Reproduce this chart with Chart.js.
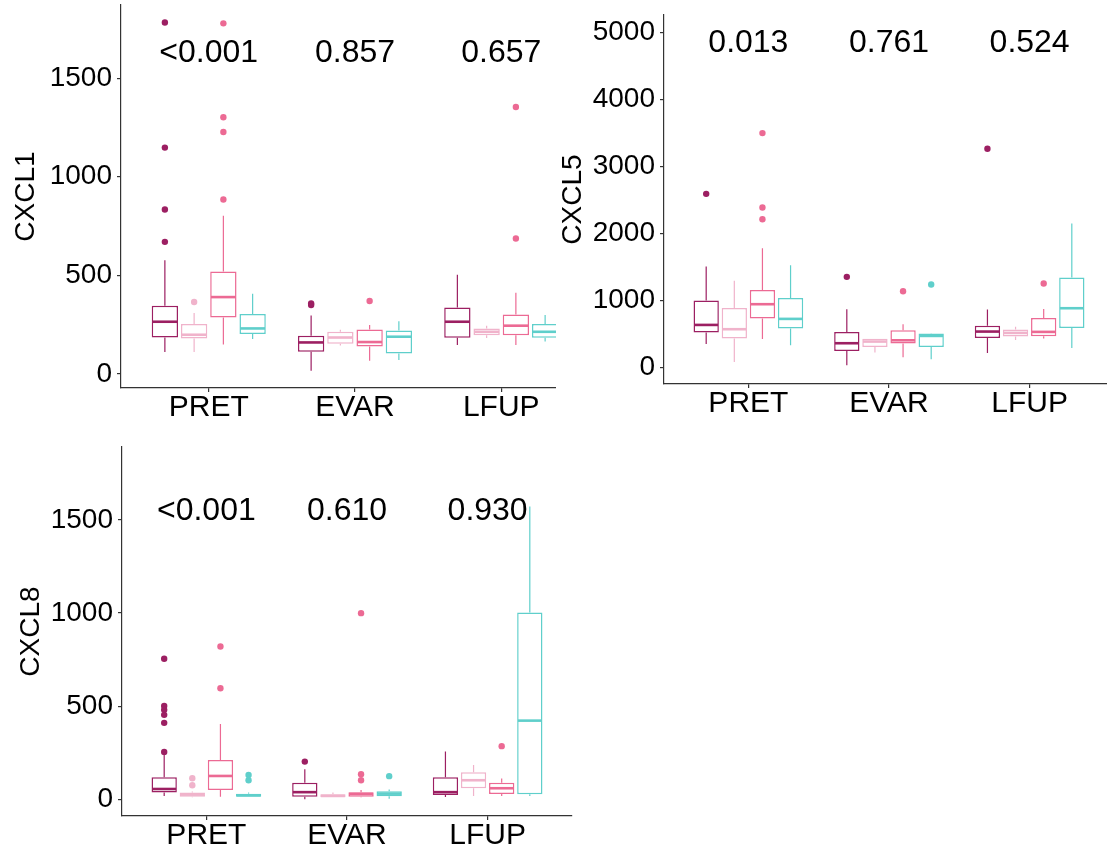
<!DOCTYPE html>
<html>
<head>
<meta charset="utf-8">
<script src="https://cdn.jsdelivr.net/npm/chart.js@4"></script>
<style>
  html, body { margin: 0; padding: 0; background: #fff; width: 1107px; height: 849px; overflow: hidden; }
  .panel { position: absolute; overflow: hidden; }
  canvas { position: absolute; left: 0; top: 0; }
</style>
</head>
<body>
<div class="panel" style="left:0;top:0;width:556px;height:440px"><canvas id="c1" width="620" height="440"></canvas></div>
<div class="panel" style="left:556px;top:0;width:551px;height:440px"><canvas id="c2" width="578" height="440"></canvas></div>
<div class="panel" style="left:0;top:440px;width:600px;height:409px"><canvas id="c3" width="600" height="409"></canvas></div>
<script>
const categories = ["PRET", "EVAR", "LFUP"];
const groupColors = ["#9c1f62", "#f0b3cb", "#ec6a94", "#5fcfcb"];

// each box: [lower whisker, q1, median, q3, upper whisker], one per category
const cxcl1G1 = [[111, 185, 265, 346, 577], [17, 113, 160, 194, 297], [147, 184, 265, 337, 503]];
const cxcl1G2 = [[111, 180, 199, 253, 309], [145, 153, 185, 214, 224], [182, 196, 214, 231, 245]];
const cxcl1G3 = [[150, 287, 390, 520, 802], [67, 140, 162, 226, 248], [147, 196, 245, 302, 412]];
const cxcl1G4 = [[177, 203, 231, 304, 407], [71, 104, 189, 221, 267], [165, 184, 214, 253, 299]];
const cxcl1Out = [
  [[670, 834, 1148, 1782], [350, 358], []],
  [[365], [], []],
  [[885, 1227, 1302, 1778], [370], [687, 1354]],
  [[], [], []]
];
const cxcl1P = ["<0.001", "0.857", "0.657"];
const cxcl1Ticks = [0, 500, 1000, 1500];

const cxcl5G1 = [[353, 522, 636, 1000, 1507], [34, 249, 363, 532, 870], [218, 442, 537, 622, 866]];
const cxcl5G2 = [[84, 433, 572, 890, 1293], [224, 308, 388, 428, 430], [413, 463, 517, 567, 607]];
const cxcl5G3 = [[427, 731, 945, 1158, 1780], [154, 358, 407, 557, 646], [433, 467, 532, 741, 875]];
const cxcl5G4 = [[333, 582, 726, 1039, 1527], [124, 308, 472, 507, 510], [293, 592, 885, 1343, 2149]];
const cxcl5Out = [
  [[2591], [1353], [3263]],
  [[], [], []],
  [[2213, 2388, 3497], [1139], [1254]],
  [[], [1239], []]
];
const cxcl5P = ["0.013", "0.761", "0.524"];
const cxcl5Ticks = [0, 1000, 2000, 3000, 4000, 5000];

const cxcl8G1 = [[18, 36, 55, 118, 237], [0, 14, 38, 88, 161], [12, 23, 38, 118, 256]];
const cxcl8G2 = [[11, 14, 25, 36, 41], [11, 11, 18, 27, 36], [18, 59, 102, 145, 184]];
const cxcl8G3 = [[14, 50, 125, 211, 404], [11, 14, 28, 38, 50], [18, 28, 59, 89, 111]];
const cxcl8G4 = [[14, 14, 21, 30, 36], [3, 16, 30, 43, 52], [18, 27, 422, 1002, 1572]];
const cxcl8Out = [
  [[254, 410, 453, 480, 501, 754], [202], []],
  [[75, 113], [], []],
  [[596, 820], [102, 134, 999], [285]],
  [[102, 130], [124], []]
];
const cxcl8P = ["<0.001", "0.610", "0.930"];
const cxcl8Ticks = [0, 500, 1000, 1500];

Chart.defaults.font.family = '"Liberation Sans", Arial, sans-serif';
Chart.defaults.color = "#000";

// whiskers, medians, outliers and p-values on top of the floating bars
function boxExtras(p) {
  return {
    id: "boxExtras",
    afterDatasetsDraw(chart) {
      const ctx = chart.ctx;
      const y = chart.scales.y;
      ctx.save();
      p.boxes.forEach((box, g) => {
        const meta = chart.getDatasetMeta(g);
        ctx.strokeStyle = groupColors[g];
        ctx.fillStyle = groupColors[g];
        box.forEach((b, i) => {
          const el = meta.data[i];
          const x = el.x, w = el.width;
          ctx.lineWidth = 1.2;
          ctx.beginPath();
          ctx.moveTo(x, y.getPixelForValue(b[3]));
          ctx.lineTo(x, y.getPixelForValue(b[4]));
          ctx.moveTo(x, y.getPixelForValue(b[1]));
          ctx.lineTo(x, y.getPixelForValue(b[0]));
          ctx.stroke();
          const ym = y.getPixelForValue(b[2]);
          ctx.lineWidth = 2.6;
          ctx.beginPath();
          ctx.moveTo(x - w / 2 + 0.75, ym);
          ctx.lineTo(x + w / 2 - 0.75, ym);
          ctx.stroke();
          p.outliers[g][i].forEach(v => {
            ctx.beginPath();
            ctx.arc(x, y.getPixelForValue(v), 3.2, 0, Math.PI * 2);
            ctx.fill();
          });
        });
      });
      ctx.fillStyle = "#000";
      ctx.font = '32px "Liberation Sans", Arial, sans-serif';
      ctx.textAlign = "center";
      ctx.textBaseline = "alphabetic";
      p.pvalues.forEach((t, i) => {
        ctx.fillText(t, chart.scales.x.getPixelForValue(i + 1), y.getPixelForValue(p.pY));
      });
      ctx.restore();
    }
  };
}

function boxChart(id, p) {
  const datasets = p.boxes.map((box, g) => ({
    data: box.map((b, i) => ({ x: i + 1, y: [b[1], b[3]] })),
    backgroundColor: "#fff",
    borderColor: groupColors[g],
    borderWidth: 1.5,
    borderSkipped: false,
    categoryPercentage: 0.8,
    barPercentage: 0.9
  }));

  new Chart(id, {
    type: "bar",
    data: { datasets },
    options: {
      responsive: false,
      animation: false,
      layout: { padding: p.pad },
      plugins: { legend: { display: false }, tooltip: { enabled: false } },
      scales: {
        x: {
          type: "linear",
          min: 0.4,
          max: 3.6,
          offset: false,
          bounds: "data",
          grid: { drawOnChartArea: false, offset: false, tickLength: 4, color: "#333", lineWidth: 1.2 },
          border: { color: "#333", width: 1.2 },
          afterBuildTicks: s => { s.ticks = categories.map((c, i) => ({ value: i + 1 })); },
          ticks: {
            callback: v => categories[v - 1],
            font: { size: 30, lineHeight: 1 },
            color: "#000",
            padding: 1,
            maxRotation: 0,
            autoSkip: false
          },
          afterFit: s => { s.height = p.xH; s.paddingLeft = 0; s.paddingRight = 0; }
        },
        y: {
          min: p.yMin,
          max: p.yMax,
          bounds: "data",
          grid: { drawOnChartArea: false, tickLength: 4, color: "#333", lineWidth: 1.2 },
          border: { color: "#333", width: 1.2 },
          afterBuildTicks: s => { s.ticks = p.yTicks.map(v => ({ value: v })); },
          ticks: {
            callback: v => String(v),
            font: { size: 28, lineHeight: 1 },
            color: "#000",
            padding: 5
          },
          title: {
            display: true,
            text: p.title,
            font: { size: 28, lineHeight: 1 },
            color: "#000",
            padding: { top: p.titlePad, bottom: 0 }
          },
          afterFit: s => { s.width = p.yW; s.paddingTop = 0; s.paddingBottom = 0; }
        }
      }
    },
    plugins: [boxExtras(p)]
  });
}

boxChart("c1", {
  title: "CXCL1", boxes: [cxcl1G1, cxcl1G2, cxcl1G3, cxcl1G4], outliers: cxcl1Out,
  pvalues: cxcl1P, pY: 1584, yTicks: cxcl1Ticks, yMin: -71, yMax: 1871,
  pad: { left: 0, top: 5, right: 31, bottom: 0 }, yW: 121, xH: 52, titlePad: 12
});

boxChart("c2", {
  title: "CXCL5", boxes: [cxcl5G1, cxcl5G2, cxcl5G3, cxcl5G4], outliers: cxcl5Out,
  pvalues: cxcl5P, pY: 4710, yTicks: cxcl5Ticks, yMin: -245, yMax: 5258,
  pad: { left: 0, top: 15, right: 20, bottom: 0 }, yW: 108, xH: 56, titlePad: 3
});

boxChart("c3", {
  title: "CXCL8", boxes: [cxcl8G1, cxcl8G2, cxcl8G3, cxcl8G4], outliers: cxcl8Out,
  pvalues: cxcl8P, pY: 1500, yTicks: cxcl8Ticks, yMin: -90, yMax: 1891,
  pad: { left: 0, top: 7, right: 28, bottom: 0 }, yW: 122, xH: 33, titlePad: 17
});
</script>
</body>
</html>
